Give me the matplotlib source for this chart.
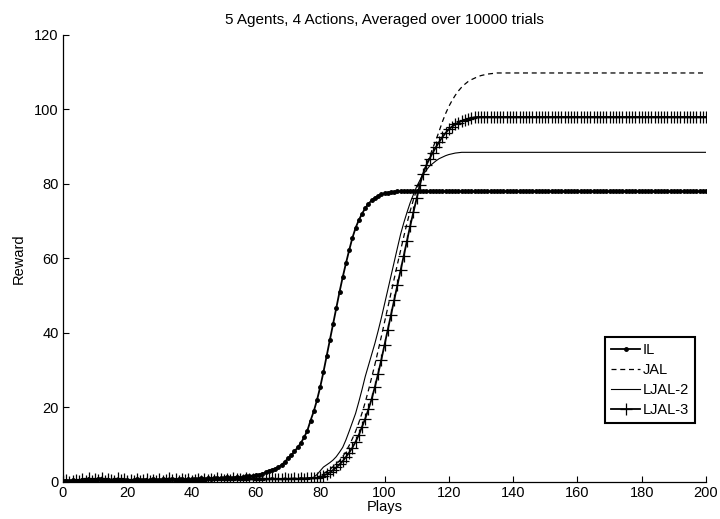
import numpy as np
import matplotlib
matplotlib.use("Agg")
import matplotlib.pyplot as plt

plt.rcParams['font.family'] = ['Liberation Sans', 'DejaVu Sans']

# reward per play (plays 0..200)
il = [
    0.3, 0.4, 0.2, 0.5, 0.3, 0.4, 0.6, 0.5, 0.4, 0.6,
    0.5, 0.7, 0.4, 0.6, 0.5, 0.3, 0.5, 0.6, 0.4, 0.5,
    0.6, 0.4, 0.5, 0.7, 0.5, 0.6, 0.4, 0.6, 0.8, 0.5,
    0.6, 0.7, 0.5, 0.6, 0.8, 0.6, 0.7, 0.9, 0.6, 0.8,
    0.7, 0.9, 0.8, 1.0, 0.8, 1.1, 0.9, 1.0, 1.2, 1.0,
    1.1, 1.3, 1.1, 1.2, 1.4, 1.2, 1.3, 1.5, 1.6, 1.7,
    1.8, 2.0, 2.2, 2.6, 3.0, 3.3, 3.6, 4.0, 4.6, 5.4,
    6.4, 7.2, 8.2, 9.3, 10.5, 12.0, 13.8, 16.5, 19.0, 22.0,
    25.5, 29.5, 33.8, 38.2, 42.5, 46.8, 51.0, 55.0, 58.7, 62.2,
    65.5, 68.2, 70.3, 72.0, 73.5, 74.7, 75.6, 76.3, 76.8, 77.2,
    77.5, 77.7, 77.8, 77.9, 78.0, 78.0, 78.0, 78.0, 78.0, 78.0,
    78.0, 78.0, 78.0, 78.0, 78.0, 78.0, 78.0, 78.0, 78.0, 78.0,
    78.0, 78.0, 78.0, 78.0, 78.0, 78.0, 78.0, 78.0, 78.0, 78.0,
    78.0, 78.0, 78.0, 78.0, 78.0, 78.0, 78.0, 78.0, 78.0, 78.0,
    78.0, 78.0, 78.0, 78.0, 78.0, 78.0, 78.0, 78.0, 78.0, 78.0,
    78.0, 78.0, 78.0, 78.0, 78.0, 78.0, 78.0, 78.0, 78.0, 78.0,
    78.0, 78.0, 78.0, 78.0, 78.0, 78.0, 78.0, 78.0, 78.0, 78.0,
    78.0, 78.0, 78.0, 78.0, 78.0, 78.0, 78.0, 78.0, 78.0, 78.0,
    78.0, 78.0, 78.0, 78.0, 78.0, 78.0, 78.0, 78.0, 78.0, 78.0,
    78.0, 78.0, 78.0, 78.0, 78.0, 78.0, 78.0, 78.0, 78.0, 78.0,
    78.0,
]

jal = [
    0.4, 0.5, 0.4, 0.5, 0.4, 0.5, 0.5, 0.4, 0.5, 0.5,
    0.5, 0.4, 0.5, 0.5, 0.4, 0.5, 0.5, 0.5, 0.4, 0.5,
    0.5, 0.5, 0.4, 0.5, 0.5, 0.5, 0.5, 0.4, 0.5, 0.5,
    0.5, 0.5, 0.5, 0.4, 0.5, 0.5, 0.5, 0.5, 0.5, 0.5,
    0.5, 0.6, 0.5, 0.5, 0.6, 0.5, 0.6, 0.5, 0.6, 0.6,
    0.6, 0.6, 0.5, 0.6, 0.6, 0.6, 0.7, 0.6, 0.6, 0.7,
    0.7, 0.6, 0.7, 0.7, 0.7, 0.7, 0.8, 0.7, 0.8, 0.8,
    0.8, 0.8, 0.8, 0.9, 0.8, 0.9, 0.9, 0.9, 1.0, 1.2,
    1.6, 2.2, 2.8, 3.4, 4.1, 4.8, 5.7, 6.8, 8.2, 9.8,
    11.6, 13.6, 15.9, 18.5, 21.4, 24.6, 28.0, 31.5, 35.2, 39.0,
    42.9, 46.8, 50.7, 54.6, 58.4, 62.2, 65.9, 69.5, 72.8, 75.8,
    78.5, 80.8, 83.0, 85.0, 87.3, 89.6, 91.8, 94.2, 96.7, 98.9,
    100.8, 102.4, 103.8, 105.0, 106.0, 106.8, 107.5, 108.0, 108.4, 108.8,
    109.1, 109.3, 109.5, 109.6, 109.7, 109.8, 109.8, 109.8, 109.8, 109.8,
    109.8, 109.8, 109.8, 109.8, 109.8, 109.8, 109.8, 109.8, 109.8, 109.8,
    109.8, 109.8, 109.8, 109.8, 109.8, 109.8, 109.8, 109.8, 109.8, 109.8,
    109.8, 109.8, 109.8, 109.8, 109.8, 109.8, 109.8, 109.8, 109.8, 109.8,
    109.8, 109.8, 109.8, 109.8, 109.8, 109.8, 109.8, 109.8, 109.8, 109.8,
    109.8, 109.8, 109.8, 109.8, 109.8, 109.8, 109.8, 109.8, 109.8, 109.8,
    109.8, 109.8, 109.8, 109.8, 109.8, 109.8, 109.8, 109.8, 109.8, 109.8,
    109.8,
]

ljal2 = [
    0.4, 0.3, 0.5, 0.4, 0.3, 0.5, 0.4, 0.6, 0.4, 0.5,
    0.5, 0.4, 0.6, 0.5, 0.4, 0.5, 0.6, 0.4, 0.5, 0.5,
    0.4, 0.6, 0.5, 0.5, 0.4, 0.6, 0.5, 0.4, 0.5, 0.6,
    0.5, 0.5, 0.6, 0.4, 0.5, 0.6, 0.5, 0.5, 0.6, 0.5,
    0.6, 0.5, 0.5, 0.6, 0.5, 0.6, 0.6, 0.5, 0.6, 0.6,
    0.5, 0.6, 0.6, 0.7, 0.6, 0.6, 0.7, 0.6, 0.7, 0.7,
    0.6, 0.7, 0.7, 0.8, 0.7, 0.7, 0.8, 0.8, 0.7, 0.8,
    0.8, 0.9, 0.8, 0.9, 0.9, 1.0, 1.0, 1.1, 1.3, 2.0,
    3.0, 4.0, 4.6, 5.2, 5.9, 6.8, 8.0, 9.3, 11.3, 13.6,
    16.0, 18.4, 21.5, 24.8, 28.3, 31.3, 34.2, 37.2, 40.5, 44.0,
    47.7, 51.5, 55.3, 59.0, 62.8, 66.5, 69.6, 72.4, 75.0, 77.2,
    79.3, 81.0, 82.5, 83.7, 84.8, 85.5, 86.2, 86.8, 87.2, 87.6,
    87.9, 88.1, 88.3, 88.4, 88.5, 88.5, 88.5, 88.5, 88.5, 88.5,
    88.5, 88.5, 88.5, 88.5, 88.5, 88.5, 88.5, 88.5, 88.5, 88.5,
    88.5, 88.5, 88.5, 88.5, 88.5, 88.5, 88.5, 88.5, 88.5, 88.5,
    88.5, 88.5, 88.5, 88.5, 88.5, 88.5, 88.5, 88.5, 88.5, 88.5,
    88.5, 88.5, 88.5, 88.5, 88.5, 88.5, 88.5, 88.5, 88.5, 88.5,
    88.5, 88.5, 88.5, 88.5, 88.5, 88.5, 88.5, 88.5, 88.5, 88.5,
    88.5, 88.5, 88.5, 88.5, 88.5, 88.5, 88.5, 88.5, 88.5, 88.5,
    88.5, 88.5, 88.5, 88.5, 88.5, 88.5, 88.5, 88.5, 88.5, 88.5,
    88.5,
]

ljal3 = [
    0.2, 0.5, 0.1, 0.3, 0.6, 0.2, 0.9, 0.4, 1.1, 0.3,
    0.8, 0.5, 1.2, 0.4, 0.9, 0.6, 0.3, 1.0, 0.5, 0.7,
    0.2, 0.6, 0.4, 0.8, 0.3, 0.5, 0.9, 0.2, 0.6, 0.4,
    0.7, 0.3, 0.5, 1.0, 0.6, 0.8, 0.4, 0.9, 0.5, 0.7,
    0.3, 0.6, 0.8, 0.4, 0.7, 0.5, 0.9, 0.6, 1.0, 0.7,
    0.5, 0.8, 0.6, 1.1, 0.7, 0.9, 0.6, 1.0, 0.8, 0.7,
    0.9, 0.6, 1.0, 0.8, 0.7, 1.1, 0.8, 0.9, 0.7, 1.0,
    0.8, 0.9, 1.0, 0.8, 1.1, 0.9, 1.0, 1.1, 1.0, 1.1,
    1.3, 1.7, 2.1, 2.6, 3.2, 3.9, 4.7, 5.6, 6.7, 7.9,
    9.2, 10.8, 12.6, 14.8, 17.0, 19.5, 22.3, 25.5, 29.0, 32.8,
    36.8, 40.8, 44.8, 48.8, 52.8, 56.8, 60.8, 64.8, 68.8, 72.5,
    76.3, 79.8, 82.8, 85.0, 86.8, 88.4, 89.9, 91.3, 92.6, 93.7,
    94.7, 95.4, 96.0, 96.5, 96.9, 97.2, 97.5, 97.7, 97.9, 98.0,
    98.0, 98.0, 98.0, 98.0, 98.0, 98.0, 98.0, 98.0, 98.0, 98.0,
    98.0, 98.0, 98.0, 98.0, 98.0, 98.0, 98.0, 98.0, 98.0, 98.0,
    98.0, 98.0, 98.0, 98.0, 98.0, 98.0, 98.0, 98.0, 98.0, 98.0,
    98.0, 98.0, 98.0, 98.0, 98.0, 98.0, 98.0, 98.0, 98.0, 98.0,
    98.0, 98.0, 98.0, 98.0, 98.0, 98.0, 98.0, 98.0, 98.0, 98.0,
    98.0, 98.0, 98.0, 98.0, 98.0, 98.0, 98.0, 98.0, 98.0, 98.0,
    98.0, 98.0, 98.0, 98.0, 98.0, 98.0, 98.0, 98.0, 98.0, 98.0,
    98.0,
]

plays = np.arange(len(il))
xticks = [0, 20, 40, 60, 80, 100, 120, 140, 160, 180, 200]
yticks = [0, 20, 40, 60, 80, 100, 120]

fig = plt.figure(figsize=(7.2, 5.19), dpi=100)
ax = fig.add_axes([0.0875, 0.0713, 0.8931, 0.8613])

ax.plot(plays, il, color='k', lw=1.3, marker='.', ms=5, label='IL')
ax.plot(plays, jal, color='k', lw=0.9, ls=(0, (4, 3)), label='JAL')
ax.plot(plays, ljal2, color='k', lw=0.8, label='LJAL-2')
ax.plot(plays, ljal3, color='k', lw=1.3, marker='+', ms=8, mew=0.9, label='LJAL-3')

ax.set_xlim(0, 200)
ax.set_ylim(0, 120)
ax.set_xticks(xticks)
ax.set_yticks(yticks)
ax.tick_params(direction='in', length=4, width=0.8, labelsize=10.5, pad=3)
ax.spines['top'].set_visible(False)
ax.spines['right'].set_visible(False)
for s in ['left', 'bottom']:
    ax.spines[s].set_linewidth(0.9)

ax.set_xlabel('Plays', fontsize=10.5, labelpad=0)
ax.set_ylabel('Reward', fontsize=10.5, labelpad=6)
ax.set_title('5 Agents, 4 Actions, Averaged over 10000 trials', fontsize=11, pad=8)

leg = ax.legend(loc='lower right', bbox_to_anchor=(0.983, 0.132), fontsize=10.5,
                fancybox=False, edgecolor='k', framealpha=1, handlelength=2.0,
                handletextpad=0.2, labelspacing=0.42, borderpad=0.4,
                borderaxespad=0)
leg.get_frame().set_linewidth(1.5)

fig.savefig('out.png', dpi=100)
